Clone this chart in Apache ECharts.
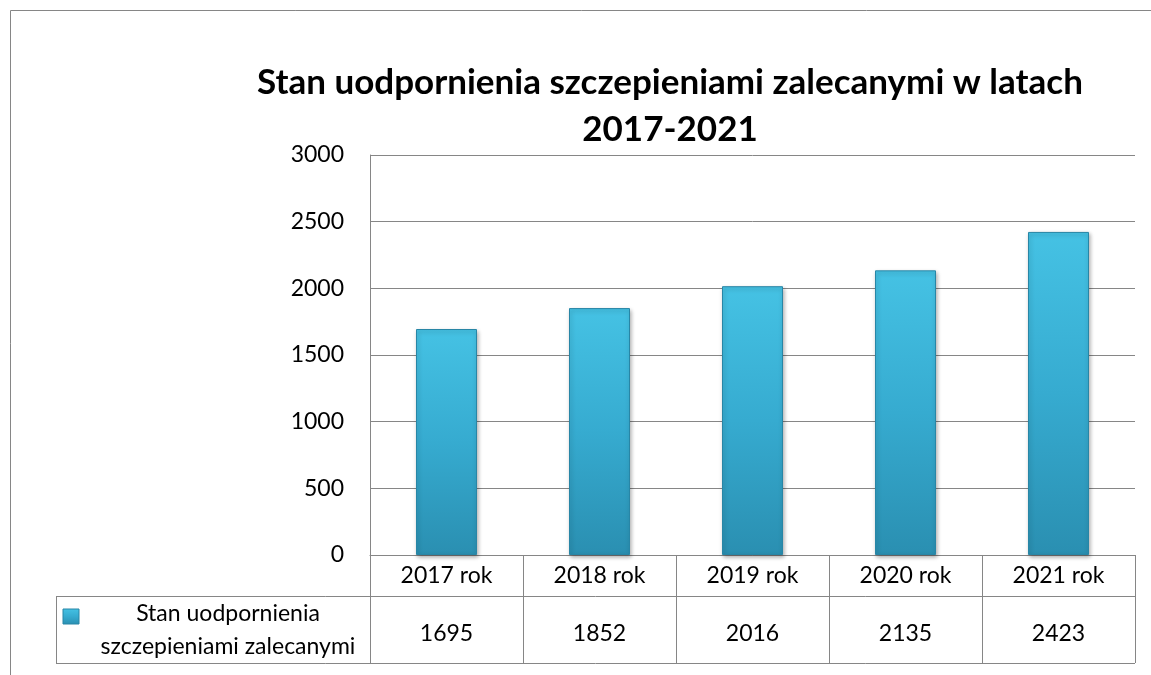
<!DOCTYPE html>
<html lang="pl">
<head>
    <meta charset="UTF-8">
    <title>Stan uodpornienia</title>
    <style>
        body,html{
            width: 1151px;
            height: 675px;
            margin: 0;
            background: #fff;
            overflow: hidden;
        }
        #chart{
            width: 1151px;
            height: 675px;
        }
    </style>
</head>
<body>

<div id="chart"></div>

<script src="https://cdn.jsdelivr.net/npm/echarts@6/dist/echarts.min.js"></script>
<script type="text/javascript">

    // dane z wykresu
    let years = ['2017 rok', '2018 rok', '2019 rok', '2020 rok', '2021 rok'];
    let values = [1695, 1852, 2016, 2135, 2423];
    let seriesName = 'Stan uodpornienia szczepieniami zalecanymi';
    let seriesLines = ['Stan uodpornienia', 'szczepieniami zalecanymi'];
    let titleLines = ['Stan uodpornienia szczepieniami zalecanymi w latach', '2017-2021'];

    let font = 'Lato, "Open Sans", sans-serif';
    let gray = '#868686';

    //tabela pod osią
    let tableTop = 555, rowY = 596, tableBottom = 663, legendLeft = 56, plotRight = 1135;

    let barColor = new echarts.graphic.LinearGradient(0, 0, 0, 1, [
        {offset: 0, color: '#45c2e4'},
        {offset: 0.5, color: '#36abd0'},
        {offset: 1, color: '#2a8fb1'}
    ]);

    let chartbox = document.getElementById('chart'),
        myChart = echarts.init(chartbox);

    let option = {
        animation: false,
        grid: {
            left: 370,
            right: 1151 - plotRight,
            top: 155,
            bottom: 675 - tableTop
        },
        xAxis: {
            type: 'category',
            data: years,
            axisLine: {lineStyle: {color: gray, width: 1}},
            axisTick: {
                show: true,
                length: tableBottom - tableTop,
                lineStyle: {color: gray, width: 1}
            },
            axisLabel: {
                margin: 0,
                interval: 0,
                formatter: function (v, i) {
                    return '{a|' + v + '}\n{b|' + values[i] + '}';
                },
                rich: {
                    a: {fontSize: 23, fontFamily: font, color: '#000', lineHeight: 41},
                    b: {fontSize: 23, fontFamily: font, color: '#000', lineHeight: 76}
                }
            }
        },
        yAxis: {
            type: 'value',
            min: 0,
            max: 3000,
            interval: 500,
            axisLine: {show: true, lineStyle: {color: gray, width: 1}},
            axisTick: {show: false},
            axisLabel: {
                margin: 26,
                fontSize: 23,
                fontFamily: font,
                color: '#000',
                formatter: function (v) {
                    return String(v);
                }
            },
            splitLine: {lineStyle: {color: gray, width: 1}}
        },
        series: [
            {
                name: seriesName,
                type: 'bar',
                data: values,
                barWidth: 61,
                itemStyle: {
                    color: barColor,
                    borderColor: '#2886a6',
                    borderWidth: 1,
                    shadowColor: 'rgba(0,0,0,0.3)',
                    shadowBlur: 4,
                    shadowOffsetX: 1,
                    shadowOffsetY: 2
                }
            }
        ],
        graphic: [
            //ramka
            {
                type: 'rect',
                shape: {x: 10.5, y: 10.5, width: 1300, height: 800},
                style: {fill: 'none', stroke: gray, lineWidth: 1},
                silent: true
            },
            //tytuł
            {
                type: 'text',
                style: {
                    x: 670, y: 59,
                    text: titleLines.join('\n'),
                    textAlign: 'center',
                    font: 'bold 35px ' + font,
                    lineHeight: 47,
                    fill: '#000'
                }
            },
            //linie tabeli
            {
                type: 'line',
                shape: {x1: legendLeft, y1: rowY + 0.5, x2: plotRight, y2: rowY + 0.5},
                style: {stroke: gray, lineWidth: 1}
            },
            {
                type: 'line',
                shape: {x1: legendLeft, y1: tableBottom + 0.5, x2: plotRight, y2: tableBottom + 0.5},
                style: {stroke: gray, lineWidth: 1}
            },
            {
                type: 'line',
                shape: {x1: legendLeft + 0.5, y1: rowY, x2: legendLeft + 0.5, y2: tableBottom},
                style: {stroke: gray, lineWidth: 1}
            },
            //legenda
            {
                type: 'rect',
                shape: {x: 63, y: 609, width: 16, height: 15},
                style: {fill: barColor, stroke: '#2886a6', lineWidth: 1}
            },
            {
                type: 'text',
                style: {
                    x: 228, y: 597,
                    text: seriesLines.join('\n'),
                    textAlign: 'center',
                    font: '23px ' + font,
                    lineHeight: 33,
                    fill: '#000'
                }
            }
        ]
    };
    myChart.setOption(option);

</script>
</body>
</html>
